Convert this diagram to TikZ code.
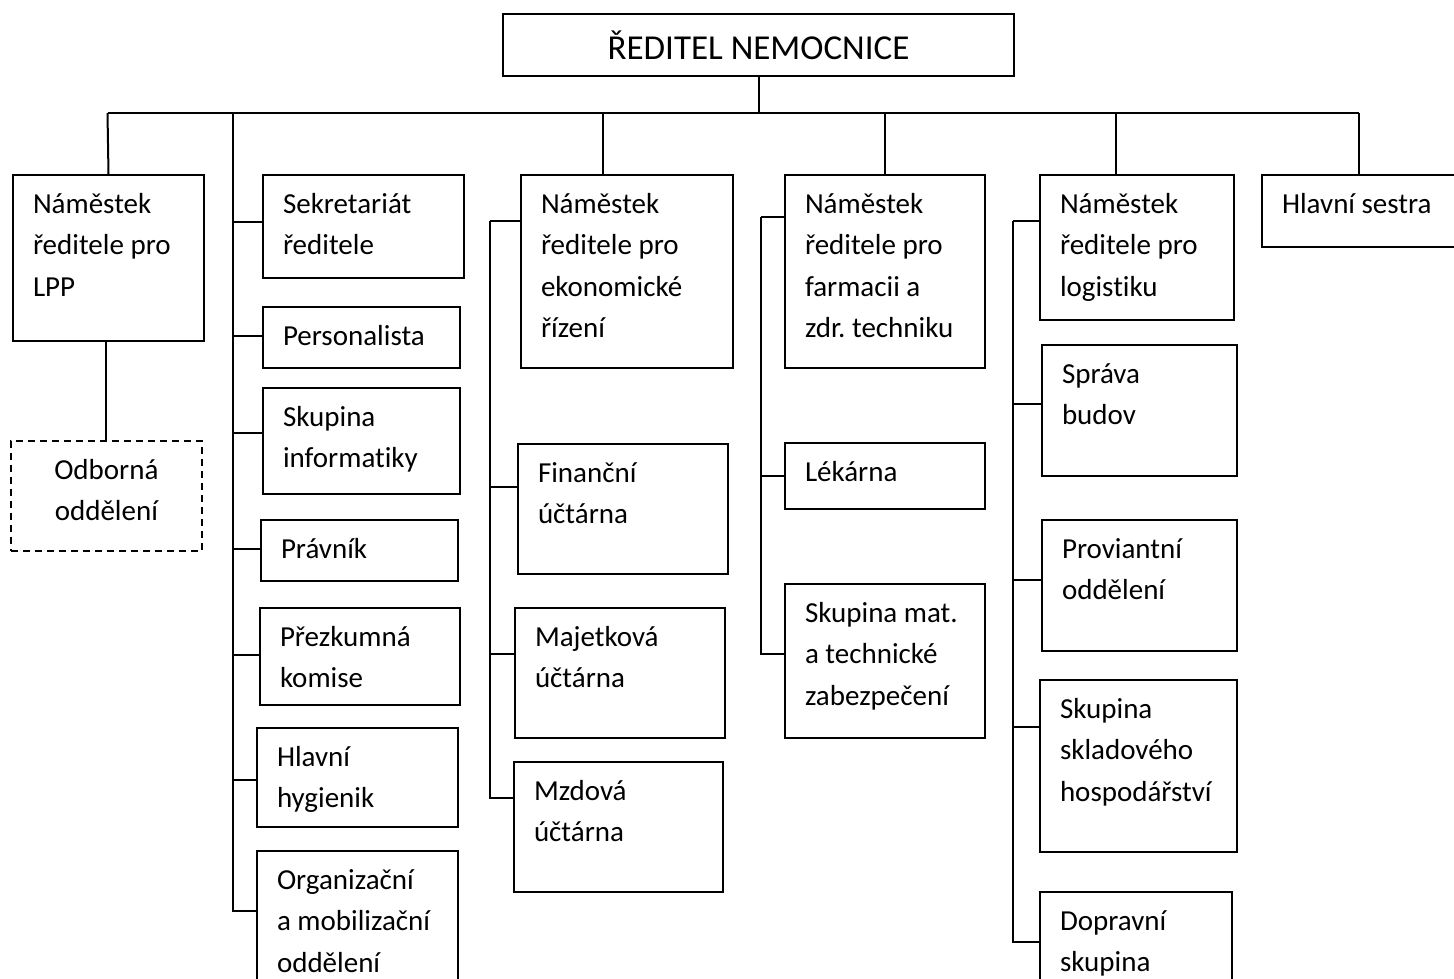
\documentclass[tikz,border=0pt]{standalone}
\usepackage{fontspec}
\setmainfont{Carlito}[Ligatures=NoCommon]
\usepackage{tikz}

\newcommand{\unittext}[3]{\parbox[c][#2][t]{#1}{\frenchspacing\leftskip=20pt\rightskip=0pt plus 1fil\rule{0pt}{38.5pt}#3}}

\begin{document}
\begin{tikzpicture}[x=1pt,y=-1pt,
    unit/.style={draw, line width=2pt, inner sep=0pt, anchor=north west},
    dashunit/.style={unit, line width=1.8pt, dash pattern=on 7pt off 5pt},
    link/.style={line width=2pt},
    thinlink/.style={line width=1.5pt},
    font=\fontsize{29pt}{41.3pt}\selectfont]

    \useasboundingbox (0,0) rectangle (1454,979);

    \node[unit, minimum width=511pt, minimum height=62pt, text depth=0pt,
        font=\fontsize{35pt}{42pt}\selectfont] (dir) at (502,13) {ŘEDITEL NEMOCNICE};

    \node[unit] (lpp) at (12,174) {\unittext{191pt}{166pt}{Náměstek\\ředitele pro\\LPP}};
    \node[dashunit] (odb) at (10,440) {\unittext{191pt}{110pt}{\centering Odborná\\oddělení}};

    \node[unit] (sekr) at (262,174) {\unittext{201pt}{103pt}{Sekretariát\\ředitele}};
    \node[unit] (pers) at (262,306) {\unittext{197pt}{61pt}{Personalista}};
    \node[unit] (info) at (262,387) {\unittext{197pt}{106pt}{Skupina\\informatiky}};
    \node[unit] (prav) at (260,519) {\unittext{197pt}{61pt}{Právník}};
    \node[unit] (prez) at (259,607) {\unittext{200pt}{97pt}{Přezkumná\\komise}};
    \node[unit] (hyg) at (256,727) {\unittext{201pt}{99pt}{Hlavní\\hygienik}};
    \node[unit] (org) at (256,850) {\unittext{201pt}{140pt}{Organizační\\a mobilizační\\oddělení}};

    \node[unit] (econ) at (520,174) {\unittext{212pt}{193pt}{Náměstek\\ředitele pro\\ekonomické\\řízení}};
    \node[unit] (fin) at (517,443) {\unittext{210pt}{130pt}{Finanční\\účtárna}};
    \node[unit] (maj) at (514,607) {\unittext{210pt}{130pt}{Majetková\\účtárna}};
    \node[unit] (mzd) at (513,761) {\unittext{209pt}{130pt}{Mzdová\\účtárna}};

    \node[unit] (farm) at (784,174) {\unittext{200pt}{193pt}{Náměstek\\ředitele pro\\farmacii a\\zdr. techniku}};
    \node[unit] (lek) at (784,442) {\unittext{200pt}{66pt}{Lékárna}};
    \node[unit] (mat) at (784,583) {\unittext{200pt}{154pt}{Skupina mat.\\a technické\\zabezpečení}};

    \node[unit] (log) at (1039,174) {\unittext{194pt}{145pt}{Náměstek\\ředitele pro\\logistiku}};
    \node[unit] (spr) at (1041,344) {\unittext{195pt}{131pt}{Správa\\budov}};
    \node[unit] (prov) at (1041,519) {\unittext{195pt}{131pt}{Proviantní\\oddělení}};
    \node[unit] (skl) at (1039,679) {\unittext{197pt}{172pt}{Skupina\\skladového\\hospodářství}};
    \node[unit] (dop) at (1039,891) {\unittext{192pt}{100pt}{Dopravní\\skupina}};

    \node[unit] (sestra) at (1261,174) {\unittext{210pt}{72pt}{Hlavní sestra}};

    \coordinate (busL) at (107.5,113);
    \coordinate (busR) at (1359,113);
    \coordinate (b2) at (233,113);
    \coordinate (d3) at (603,113);
    \coordinate (d5) at (1116,113);
    \coordinate (b3) at (490,221);
    \coordinate (b4) at (761,217);
    \coordinate (b5) at (1013,221);

    \draw[link] (busL) -- (busR);
    \draw[link] (dir.south) -- (dir.south |- busL);
    \draw[link] (busL) -- (lpp.north);
    \draw[link] (d3) -- (d3 |- econ.north);
    \draw[link] (farm.north |- busL) -- (farm.north);
    \draw[link] (d5) -- (d5 |- log.north);
    \draw[link] (busR) -- (busR |- sestra.north);
    \draw[link] (odb.north |- lpp.south) -- (odb.north);

    \draw[link] (b2) |- ([yshift=-61pt]org.north west);
    \draw[link] ([yshift=-48pt]sekr.north west) -- ([yshift=-48pt]sekr.north west -| b2);
    \draw[link] ([yshift=-30pt]pers.north west) -- ([yshift=-30pt]pers.north west -| b2);
    \draw[link] ([yshift=-46pt]info.north west) -- ([yshift=-46pt]info.north west -| b2);
    \draw[link] ([yshift=-30pt]prav.north west) -- ([yshift=-30pt]prav.north west -| b2);
    \draw[link] ([yshift=-48pt]prez.north west) -- ([yshift=-48pt]prez.north west -| b2);
    \draw[link] ([yshift=-53pt]hyg.north west) -- ([yshift=-53pt]hyg.north west -| b2);

    \draw[link] ([yshift=-47pt]econ.north west) -- (b3);
    \draw[link] (b3) |- ([yshift=-37pt]mzd.north west);
    \draw[link] ([yshift=-44pt]fin.north west) -- ([yshift=-44pt]fin.north west -| b3);
    \draw[link] ([yshift=-47pt]maj.north west) -- ([yshift=-47pt]maj.north west -| b3);

    \draw[thinlink] ([yshift=-43pt]farm.north west) -- (b4);
    \draw[thinlink] (b4) |- ([yshift=-71pt]mat.north west);
    \draw[thinlink] (lek.west) -- (lek.west -| b4);

    \draw[thinlink] ([yshift=-47pt]log.north west) -- (b5);
    \draw[thinlink] (b5) |- ([yshift=-51pt]dop.north west);
    \draw[thinlink] ([yshift=-60pt]spr.north west) -- ([yshift=-60pt]spr.north west -| b5);
    \draw[thinlink] ([yshift=-61pt]prov.north west) -- ([yshift=-61pt]prov.north west -| b5);
    \draw[thinlink] ([yshift=-48pt]skl.north west) -- ([yshift=-48pt]skl.north west -| b5);
\end{tikzpicture}
\end{document}
